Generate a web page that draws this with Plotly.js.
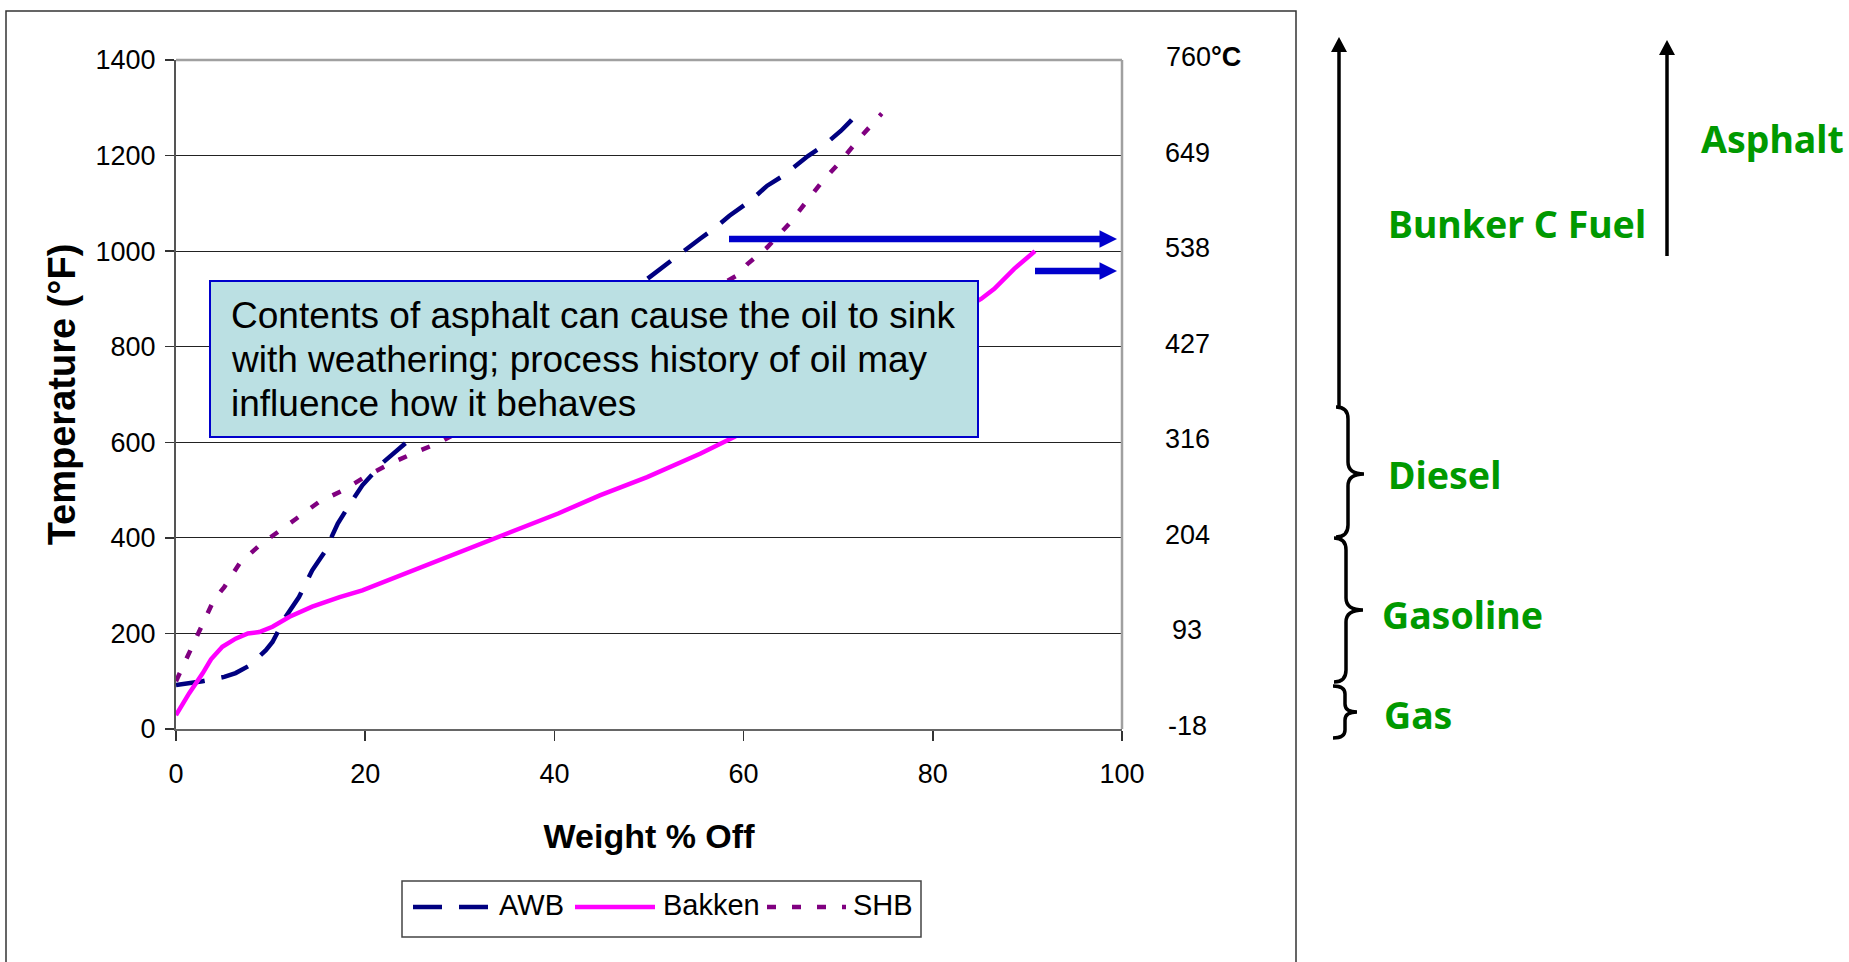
<!DOCTYPE html>
<html>
<head>
<meta charset="utf-8">
<script src="https://cdn.plot.ly/plotly-3.0.1.min.js"></script>
<style>
  html, body { margin: 0; padding: 0; background: #fff; }
  #chart { width: 1849px; height: 962px; }
</style>
</head>
<body>
<div id="chart"></div>
<script>
// Distillation curves: boiling temperature against cumulative weight % off
const seriesNames = ['AWB', 'Bakken', 'SHB'];

const awbOff  = [0, 2.8, 5.1, 6.3, 7.7, 9.5, 10.2, 11.6, 13.0, 14.4, 15.7, 17.1, 18.3, 19.7, 21.9, 23.6, 25.2,
                 49.3, 52.3, 54.2, 55.4, 56.8, 58.5, 60.7, 62.5, 64.2, 66.8, 68.4, 70.3, 71.3, 72.1];
const awbTemp = [92, 100, 109, 117, 132, 165, 182, 235, 276, 332, 370, 430, 468, 510, 558, 586, 614,
                 934, 980, 1007, 1026, 1046, 1074, 1105, 1137, 1158, 1199, 1220, 1252, 1272, 1291];

const bakkenOff  = [0, 1.4, 2.8, 3.7, 4.9, 6.3, 7.6, 8.8, 10.2, 12.0, 14.4, 17.3, 19.7, 23.3, 27.5, 33.2,
                    40.4, 44.8, 49.8, 55.4, 59.0, 85.1, 86.5, 88.6, 90.8];
const bakkenTemp = [29, 75, 116, 146, 172, 189, 200, 203, 214, 235, 256, 276, 290, 318, 353, 396,
                    451, 489, 527, 576, 611, 900, 921, 963, 1000];

const shbOff  = [0, 1.4, 2.8, 4.0, 5.1, 6.7, 8.8, 10.2, 12.7, 15.1, 17.6, 20.1, 22.6, 25.2, 27.9,
                 59.3, 60.4, 62.5, 64.8, 66.5, 68.2, 70.3, 72.2, 74.6];
const shbTemp = [100, 158, 221, 270, 297, 346, 384, 405, 440, 475, 499, 529, 555, 578, 600,
                 949, 973, 1008, 1057, 1100, 1143, 1189, 1235, 1288];

const xTicks = [0, 20, 40, 60, 80, 100];
const fahrenheitTicks = [0, 200, 400, 600, 800, 1000, 1200, 1400];
const celsiusLabels = ['-18', '93', '204', '316', '427', '538', '649', '760'];

const noteLines = [
  'Contents of asphalt can cause the oil to sink',
  'with weathering; process history of oil may',
  'influence how it behaves'
];
const fractionNames = ['Gas', 'Gasoline', 'Diesel', 'Bunker C Fuel', 'Asphalt'];

// ---- styling ----
const seriesColors = ['#000080', '#ff00ff', '#800080'];
const seriesDash = ['29px,17px', 'solid', '9px,16px'];
const LINE_W = 4.5;
const GREEN = '#009900';
const BASE_FONT = 'Liberation Sans, Arial, sans-serif';

// plot area in page pixels; helpers convert page pixels to paper fractions
const PLOT = { left: 176, top: 60, width: 946, height: 669 };
const W = 1849, H = 962;
const fx = px => (px - PLOT.left) / PLOT.width;
const fy = py => (PLOT.top + PLOT.height - py) / PLOT.height;

function lineShape(x0, y0, x1, y1, color, width, dash, layer) {
  return { type: 'line', xref: 'paper', yref: 'paper',
    x0: fx(x0), y0: fy(y0), x1: fx(x1), y1: fy(y1),
    line: { color: color, width: width, dash: dash || 'solid' }, layer: layer || 'above' };
}
function pathShape(d, color, width, fill) {
  return { type: 'path', xref: 'paper', yref: 'paper', path: d,
    line: { color: color, width: width }, fillcolor: fill || 'rgba(0,0,0,0)', layer: 'above' };
}
function pt(x, y) { return fx(x) + ',' + fy(y); }

function upArrow(x, yTip, yTail, w, headLen, headW, color) {
  return [
    lineShape(x, yTail, x, yTip + headLen - 1, color, w),
    pathShape('M' + pt(x, yTip) + ' L' + pt(x - headW / 2, yTip + headLen) +
              ' L' + pt(x + headW / 2, yTip + headLen) + ' Z', color, 0, color)
  ];
}
function rightArrow(xTail, xTip, y, w, headLen, headW, color) {
  return [
    lineShape(xTail, y, xTip - headLen + 1, y, color, w),
    pathShape('M' + pt(xTip, y) + ' L' + pt(xTip - headLen, y - headW / 2) +
              ' L' + pt(xTip - headLen, y + headW / 2) + ' Z', color, 0, color)
  ];
}
// right-facing curly brace: ends curl left at xc, spine at xv, point at xt
function brace(xc, xv, xt, y0, ym, y1, r) {
  const d = 'M' + pt(xc, y0) +
    ' Q' + pt(xv, y0) + ' ' + pt(xv, y0 + r) +
    ' L' + pt(xv, ym - r) +
    ' Q' + pt(xv, ym) + ' ' + pt(xt, ym) +
    ' Q' + pt(xv, ym) + ' ' + pt(xv, ym + r) +
    ' L' + pt(xv, y1 - r) +
    ' Q' + pt(xv, y1) + ' ' + pt(xc, y1);
  return pathShape(d, '#000', 3.5);
}

// ---- traces ----
const seriesX = [awbOff, bakkenOff, shbOff];
const seriesY = [awbTemp, bakkenTemp, shbTemp];
const traces = seriesNames.map((name, i) => ({
  x: seriesX[i], y: seriesY[i], name: name, type: 'scatter', mode: 'lines',
  line: { color: seriesColors[i], width: LINE_W, dash: seriesDash[i] },
  hoverinfo: 'x+y+name', showlegend: false
}));

// ---- shapes ----
const shapes = [];
// outer frame
shapes.push({ type: 'rect', xref: 'paper', yref: 'paper', x0: fx(6), y0: fy(11), x1: fx(1296), y1: fy(990),
  line: { color: '#333', width: 1.5 }, fillcolor: 'rgba(0,0,0,0)', layer: 'below' });
// plot-area border (top and right)
shapes.push(lineShape(176, 60, 1122, 60, '#a0a0a0', 2.5));
shapes.push(lineShape(1122, 60, 1122, 729, '#a0a0a0', 2.5));
// note box
shapes.push({ type: 'rect', xref: 'paper', yref: 'paper', x0: fx(210), y0: fy(437), x1: fx(978), y1: fy(281),
  line: { color: '#0000cc', width: 2 }, fillcolor: '#bbe0e3', layer: 'above' });
// blue pointers to the right-hand scale
shapes.push(...rightArrow(729, 1117, 239, 6.3, 17.5, 17.5, '#0000cc'));
shapes.push(...rightArrow(1035, 1117, 271, 6.3, 17.5, 17.5, '#0000cc'));
// fraction arrows and braces
shapes.push(...upArrow(1339, 37, 408, 3.5, 15, 16, '#000'));
shapes.push(...upArrow(1667, 40, 256, 3.5, 15, 16, '#000'));
shapes.push(brace(1336, 1348, 1364, 407, 474, 537, 12));
shapes.push(brace(1334, 1346, 1363, 538, 610, 682, 12));
shapes.push(brace(1333, 1345, 1357, 686, 712, 738, 8));
// legend box and samples
shapes.push({ type: 'rect', xref: 'paper', yref: 'paper', x0: fx(402), y0: fy(937), x1: fx(921), y1: fy(881),
  line: { color: '#444', width: 1.5 }, fillcolor: '#fff', layer: 'above' });
const legendSample = [[413, 490], [575, 655], [767, 846]];
const legendText = [498, 662, 852];
seriesNames.forEach((n, i) => {
  shapes.push(lineShape(legendSample[i][0], 907, legendSample[i][1], 907, seriesColors[i], LINE_W, seriesDash[i]));
});

// ---- annotations ----
const annotations = [];
function textAt(text, x, y, size, opts) {
  return Object.assign({ text: text, xref: 'paper', yref: 'paper', x: fx(x), y: fy(y),
    xanchor: 'left', yanchor: 'middle', showarrow: false, borderpad: 0,
    font: { size: size, color: '#000', family: BASE_FONT } }, opts || {});
}
// note text
const noteY = [315, 359, 403];
noteLines.forEach((t, i) => annotations.push(textAt(t, 230, noteY[i], 37)));
// legend labels
seriesNames.forEach((n, i) => annotations.push(textAt(n, legendText[i], 905, 29)));
// Celsius scale beside the plot
fahrenheitTicks.forEach((f, i) => {
  const top = i === fahrenheitTicks.length - 1;
  annotations.push({
    text: top ? celsiusLabels[i] + '<b>°C</b>' : celsiusLabels[i],
    xref: 'paper', yref: 'y', x: top ? fx(1165) : fx(1187), y: f, yshift: 3,
    xanchor: top ? 'left' : 'center', yanchor: 'middle', showarrow: false, borderpad: 0,
    font: { size: 27, color: '#000', family: BASE_FONT }
  });
});
// fraction labels
const fractionPos = [[1383, 714], [1381, 614], [1387, 474], [1387, 224], [1700, 138]];
fractionNames.forEach((n, i) => {
  annotations.push(textAt(n, fractionPos[i][0], fractionPos[i][1], 37,
    { font: { size: 37.5, color: GREEN, family: 'Noto Sans, DejaVu Sans, sans-serif', weight: 'bold' } }));
});

const layout = {
  width: W, height: H,
  margin: { l: PLOT.left, r: W - PLOT.left - PLOT.width, t: PLOT.top, b: H - PLOT.top - PLOT.height, pad: 0 },
  paper_bgcolor: '#fff', plot_bgcolor: '#fff',
  font: { family: BASE_FONT, color: '#000' },
  showlegend: false,
  xaxis: {
    range: [0, 100], tickvals: xTicks, ticks: 'outside', ticklen: 10, tickwidth: 1.5, tickcolor: '#333',
    showline: true, linecolor: '#666', linewidth: 2, showgrid: false, zeroline: false,
    tickfont: { size: 27 }, ticklabelstandoff: 10, fixedrange: true,
    title: { text: 'Weight % Off', font: { size: 34, weight: 'bold' }, standoff: 36 }
  },
  yaxis: {
    range: [0, 1400], tickvals: fahrenheitTicks, ticks: 'outside', ticklen: 9, tickwidth: 1.5, tickcolor: '#333',
    showline: true, linecolor: '#555', linewidth: 2, showgrid: true, gridcolor: '#222', gridwidth: 1,
    zeroline: false, tickfont: { size: 27 }, ticklabelstandoff: 4, fixedrange: true,
    title: { text: 'Temperature (°F)', font: { size: 38, weight: 'bold' }, standoff: 8 }
  },
  shapes: shapes,
  annotations: annotations
};

Plotly.newPlot('chart', traces, layout, { displayModeBar: false, staticPlot: true });
</script>
</body>
</html>
